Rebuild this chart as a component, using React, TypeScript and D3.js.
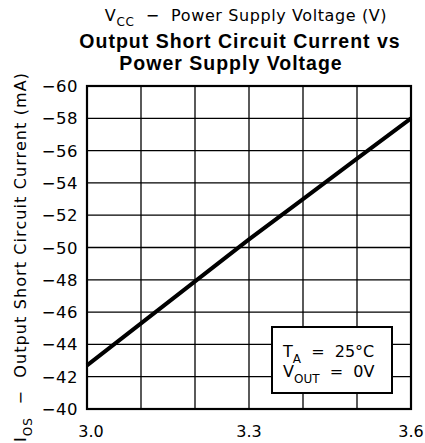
import React, { useEffect, useRef } from 'react';
import * as d3 from 'd3';

const voltages = [3.0, 3.1, 3.2, 3.3, 3.4, 3.5, 3.6];
const currents = [-42.7, -45.3, -47.9, -50.5, -53.0, -55.5, -58.0];
const xTickLabels = [3.0, 3.3, 3.6];
const yTicks = [-40, -42, -44, -46, -48, -50, -52, -54, -56, -58, -60];
const xGrid = [3.0, 3.1, 3.2, 3.3, 3.4, 3.5, 3.6];
const titleLines = ['Output Short Circuit Current vs', 'Power Supply Voltage'];

const W = 425;
const H = 443;
const PLOT = { left: 87, right: 411, top: 86, bottom: 409 };
const FONT = "'DejaVu Sans', sans-serif";

const App = () => {
  const svgRef = useRef<SVGSVGElement | null>(null);

  useEffect(() => {
    if (!svgRef.current) return;
    const svg = d3.select(svgRef.current);
    svg.selectAll('*').remove();

    const x = d3.scaleLinear().domain([3.0, 3.6]).range([PLOT.left, PLOT.right]);
    const y = d3.scaleLinear().domain([-40, -60]).range([PLOT.bottom, PLOT.top]);

    // grid
    svg.append('g')
      .selectAll('line')
      .data(xGrid)
      .enter()
      .append('line')
      .attr('x1', d => x(d)).attr('x2', d => x(d))
      .attr('y1', PLOT.top).attr('y2', PLOT.bottom)
      .attr('stroke', '#000').attr('stroke-width', 1.3);

    svg.append('g')
      .selectAll('line')
      .data(yTicks)
      .enter()
      .append('line')
      .attr('x1', PLOT.left).attr('x2', PLOT.right)
      .attr('y1', d => y(d)).attr('y2', d => y(d))
      .attr('stroke', '#000').attr('stroke-width', 1.3);

    // frame
    svg.append('rect')
      .attr('x', PLOT.left).attr('y', PLOT.top)
      .attr('width', PLOT.right - PLOT.left).attr('height', PLOT.bottom - PLOT.top)
      .attr('fill', 'none').attr('stroke', '#000').attr('stroke-width', 2.2);

    // data line
    const line = d3.line<number>()
      .x((_, i) => x(voltages[i]))
      .y(d => y(d));
    svg.append('path')
      .datum(currents)
      .attr('d', line)
      .attr('fill', 'none')
      .attr('stroke', '#000')
      .attr('stroke-width', 4);

    // y tick labels
    svg.append('g')
      .selectAll('text')
      .data(yTicks)
      .enter()
      .append('text')
      .attr('x', 78)
      .attr('y', d => y(d) + 6)
      .attr('text-anchor', 'end')
      .attr('font-family', FONT)
      .attr('font-size', 16.5)
      .attr('letter-spacing', 0.5)
      .text(d => `\u2212${Math.abs(d)}`);

    // x tick labels
    svg.append('g')
      .selectAll('text')
      .data(xTickLabels)
      .enter()
      .append('text')
      .attr('x', d => x(d))
      .attr('y', 437)
      .attr('text-anchor', 'middle')
      .attr('dx', (d, i) => (i === 0 ? 4 : 0))
      .attr('font-family', FONT)
      .attr('font-size', 16)
      .text(d => d.toFixed(1));

    // legend box
    const box = svg.append('g');
    box.append('rect')
      .attr('x', 272).attr('y', 327)
      .attr('width', 120).attr('height', 66)
      .attr('fill', '#fff').attr('stroke', '#000').attr('stroke-width', 2);
    const t1 = box.append('text')
      .attr('x', 283).attr('y', 357)
      .attr('font-family', FONT).attr('font-size', 16);
    t1.append('tspan').text('T');
    t1.append('tspan').attr('dy', 6).attr('font-size', 12).text('A');
    t1.append('tspan').attr('dy', -6).attr('xml:space', 'preserve').text('  =  25°C');
    const t2 = box.append('text')
      .attr('x', 283).attr('y', 377)
      .attr('font-family', FONT).attr('font-size', 16);
    t2.append('tspan').text('V');
    t2.append('tspan').attr('dy', 6).attr('font-size', 12).text('OUT');
    t2.append('tspan').attr('dy', -6).attr('xml:space', 'preserve').text('  =  0V');

    // top axis title
    const top = svg.append('text')
      .attr('x', 246).attr('y', 21)
      .attr('text-anchor', 'middle')
      .attr('font-family', FONT).attr('font-size', 16)
      .attr('letter-spacing', 0.6);
    top.append('tspan').text('V');
    top.append('tspan').attr('dy', 5).attr('font-size', 12).text('CC');
    top.append('tspan').attr('dy', -5).attr('xml:space', 'preserve').text('  −  Power Supply Voltage (V)');

    // chart title, two lines in one text
    const title = svg.append('text')
      .attr('text-anchor', 'middle')
      .attr('font-family', "'Liberation Sans', Arial, sans-serif")
      .attr('font-weight', 'bold').attr('font-size', 19.5)
      .attr('letter-spacing', 1);
    title.append('tspan').attr('x', 240).attr('y', 48).text(titleLines[0]);
    title.append('tspan').attr('x', 231).attr('y', 70).text(titleLines[1]);

    // y axis title
    const yl = svg.append('text')
      .attr('transform', `translate(26, 257) rotate(-90)`)
      .attr('text-anchor', 'middle')
      .attr('font-family', FONT).attr('font-size', 16)
      .attr('letter-spacing', 1.1);
    yl.append('tspan').text('I');
    yl.append('tspan').attr('dy', 6).attr('font-size', 12).text('OS');
    yl.append('tspan').attr('dy', -6).attr('xml:space', 'preserve').text('  −  Output Short Circuit Current (mA)');
  }, []);

  return (
    <svg
      ref={svgRef}
      width={W}
      height={H}
      style={{ position: 'absolute', left: 0, top: 0, background: '#fff' }}
    />
  );
};

export default App;
